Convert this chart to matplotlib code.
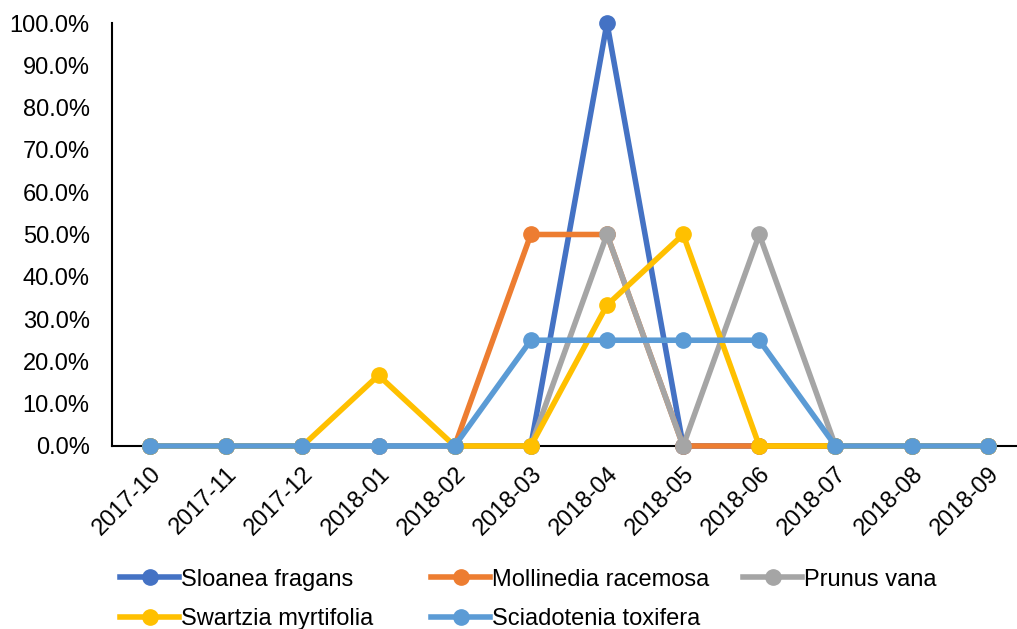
import matplotlib
matplotlib.use("Agg")
import matplotlib.pyplot as plt
from matplotlib.ticker import PercentFormatter

months = ["2017-10", "2017-11", "2017-12", "2018-01", "2018-02", "2018-03",
          "2018-04", "2018-05", "2018-06", "2018-07", "2018-08", "2018-09"]

sloanea = [0, 0, 0, 0, 0, 0, 100, 0, 0, 0, 0, 0]
mollinedia = [0, 0, 0, 0, 0, 50, 50, 0, 0, 0, 0, 0]
prunus = [0, 0, 0, 0, 0, 0, 50, 0, 50, 0, 0, 0]
swartzia = [0, 0, 0, 16.7, 0, 0, 33.3, 50, 0, 0, 0, 0]
sciadotenia = [0, 0, 0, 0, 0, 25, 25, 25, 25, 0, 0, 0]

series = [
    ("Sloanea fragans", sloanea, "#4472C4"),
    ("Mollinedia racemosa", mollinedia, "#ED7D31"),
    ("Prunus vana", prunus, "#A5A5A5"),
    ("Swartzia myrtifolia", swartzia, "#FFC000"),
    ("Sciadotenia toxifera", sciadotenia, "#5B9BD5"),
]

plt.rcParams["font.family"] = ["Liberation Sans", "DejaVu Sans"]

fig = plt.figure(figsize=(10.17, 6.29), dpi=100)
ax = fig.add_axes([0.1101, 0.291, 0.8986, 0.6724])

lines = {}
x = list(range(len(months)))
for name, vals, col in series:
    ln, = ax.plot(x, vals, color=col, lw=4, marker="o", markersize=11,
                  markeredgecolor=col, label=name, clip_on=False)
    lines[name] = ln

ax.set_xlim(-0.5, len(months) - 0.5)
ax.set_ylim(0, 100)
ax.set_yticks(range(0, 101, 10))
ax.yaxis.set_major_formatter(PercentFormatter(decimals=1))
ax.set_xticks(x)
ax.set_xticklabels(months, rotation=45, ha="right", rotation_mode="anchor")

for s in ["top", "right"]:
    ax.spines[s].set_visible(False)
for s in ["left", "bottom"]:
    ax.spines[s].set_linewidth(1.5)
    ax.spines[s].set_color("black")
    ax.spines[s].set_zorder(0.5)
ax.tick_params(axis="both", length=0, labelsize=17, colors="black")
ax.tick_params(axis="y", pad=16)
ax.tick_params(axis="x", pad=12)

# legend columns laid out like the spreadsheet legend
columns = [
    (["Sloanea fragans", "Swartzia myrtifolia"], 0.118),
    (["Mollinedia racemosa", "Sciadotenia toxifera"], 0.424),
    (["Prunus vana"], 0.731),
]
for names, xpos in columns:
    fig.legend([lines[n] for n in names], names, loc="upper left",
               bbox_to_anchor=(xpos, 0.096), frameon=False, fontsize=17,
               handlelength=2.5, handletextpad=0.08, labelspacing=0.75,
               borderaxespad=0, borderpad=0)

fig.savefig("out.png", dpi=100)
